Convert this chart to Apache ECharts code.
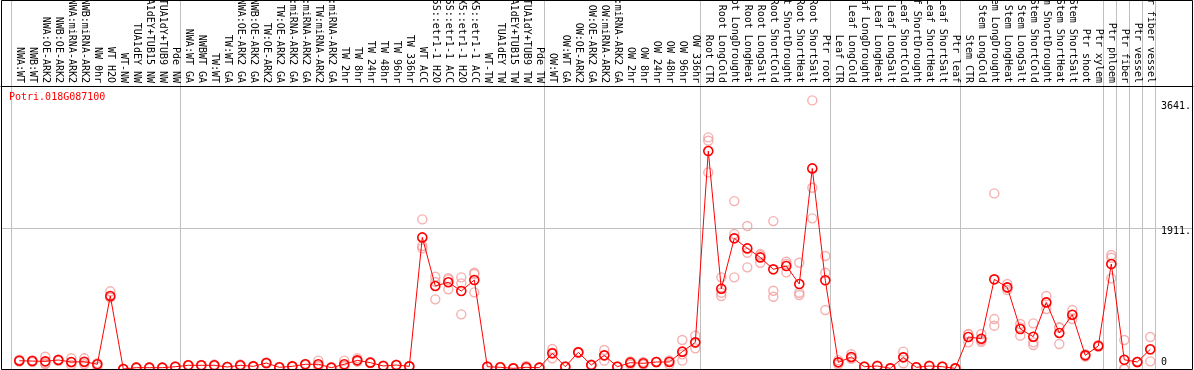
<!DOCTYPE html>
<html><head><meta charset="utf-8">
<script src="https://cdn.jsdelivr.net/npm/echarts@6/dist/echarts.min.js"></script>
<style>html,body{margin:0;padding:0;background:#fff;overflow:hidden}#c{width:1194px;height:370px}</style>
</head><body><div id="c"></div>
<script>
const geneId = 'Potri.018G087100';

const categories = [
  'NWA:WT','NWB:WT','NWA:OE-ARK2','NWB:OE-ARK2','NWA:miRNA-ARK2','NWB:miRNA-ARK2','NW 0hr','WT H2O','WT-NW',
  'TUA1dEY NW','TUA1dEY+TUB15 NW','TUA1dY+TUB9 NW','Pde NW',
  'NWA:WT GA','NWBWT GA','TW:WT','TW:WT GA','NWA:OE-ARK2 GA','NWB:OE-ARK2 GA','TW:OE-ARK2','TW:OE-ARK2 GA',
  'NWA:miRNA-ARK2 GA','NWB:miRNA-ARK2 GA','TW:miRNA-ARK2','TW:miRNA-ARK2 GA',
  'TW 2hr','TW 8hr','TW 24hr','TW 48hr','TW 96hr','TW 336hr','WT ACC',
  '35S::etr1-1 H2O','35S::etr1-1 ACC','LMX5::etr1-1 H2O','LMX5::etr1-1 ACC',
  'WT-TW','TUA1dEY TW','TUA1dEY+TUB15 TW','TUA1dY+TUB9 TW','Pde TW',
  'OW:WT','OW:WT GA','OW:OE-ARK2','OW:OE-ARK2 GA','OW:miRNA-ARK2','OW:miRNA-ARK2 GA',
  'OW 2hr','OW 8hr','OW 24hr','OW 48hr','OW 96hr','OW 336hr',
  'Root CTR','Root LongCold','Root LongDrought','Root LongHeat','Root LongSalt',
  'Root ShortCold','Root ShortDrought','Root ShortHeat','Root ShortSalt','Ptr root',
  'Leaf CTR','Leaf LongCold','Leaf LongDrought','Leaf LongHeat','Leaf LongSalt',
  'Leaf ShortCold','Leaf ShortDrought','Leaf ShortHeat','Leaf ShortSalt','Ptr leaf',
  'Stem CTR','Stem LongCold','Stem LongDrought','Stem LongHeat','Stem LongSalt',
  'Stem ShortCold','Stem ShortDrought','Stem ShortHeat','Stem ShortSalt','Ptr shoot',
  'Ptr xylem','Ptr phloem','Ptr fiber','Ptr vessel','Ptr fiber vessel'
];

const meanValues = [
  112,108,104,122,95,99,64,990,0,
  18,18,18,31,
  50,50,50,27,50,36,81,23,
  36,64,64,18,
  64,117,86,41,54,36,1784,
  1125,1175,1057,1206,
  31,23,9,23,18,
  212,31,226,54,185,31,
  86,77,95,95,235,361,
  2954,1088,1771,1635,1513,
  1351,1396,1152,2719,1202,
  90,163,31,41,9,
  158,23,41,31,9,
  434,411,1215,1107,542,
  438,903,488,736,185,
  312,1423,125,95,267
];

const rep1 = [
  125,115,167,130,145,145,80,1053,0,
  18,18,18,31,
  55,55,60,27,60,36,90,23,
  36,64,113,18,
  113,145,86,41,54,36,2028,
  1251,1215,1242,1305,
  31,23,9,40,18,
  271,31,226,54,257,31,
  95,95,95,113,393,452,
  3139,1242,2276,1938,1558,
  2005,1454,1440,3641,1531,
  120,200,31,41,9,
  235,23,41,31,9,
  474,474,2380,1152,610,
  619,989,560,799,185,
  312,1545,393,95,434
];

const rep2 = [
  100,95,68,110,54,64,31,971,0,
  12,12,12,25,
  45,45,40,22,40,30,75,18,
  30,55,40,12,
  40,100,80,35,50,30,1667,
  944,1080,1161,1287,
  25,18,5,23,12,
  145,25,220,45,113,25,
  60,60,90,60,113,280,
  3094,989,1829,1576,1440,
  1061,1310,1034,2457,1305,
  60,150,25,35,5,
  77,18,35,25,5,
  361,370,677,1070,452,
  361,813,339,677,170,
  300,1508,0,90,104
];

const rep3 = [
  112,108,77,122,86,88,64,970,0,
  25,25,22,37,
  50,50,50,32,50,42,81,28,
  42,70,39,24,
  39,106,92,47,58,42,1635,
  1180,1230,741,1039,
  37,28,13,6,24,
  220,37,232,63,185,37,
  103,76,100,112,199,351,
  2665,1033,1242,1378,1541,
  980,1424,1003,2042,799,
  90,139,37,47,13,
  162,28,47,37,13,
  467,389,587,1099,564,
  325,907,565,732,200,
  325,1229,0,100,263
];

// groups: number of categories before each separator
const groupEnds = [0,13,41,53,63,73,84,85,86,87,88];
const yTickValues = [0,1911,3641];
const yTickLabels = ['0','1911.','3641.'];

// layout constants (not data)
const SEP_OFFSET = 5/13;
const X_MIN = -1.4077, X_MAX = 90.285;
const Y_MAX = 3836;
const MONO = 'DejaVu Sans Mono';

const sepValues = groupEnds.map(k => (k - 1) + SEP_OFFSET);
const labelValues = categories.map((c, i) => i);
const toPairs = arr => arr.map((v, i) => [i, v]);

const repStyle = {color:'transparent', borderColor:'#f29c9c', borderWidth:1.4};
function repSeries(arr){
  return {type:'scatter', data: toPairs(arr), symbol:'circle', symbolSize:9,
    itemStyle: repStyle, z:2, silent:true, animation:false};
}

const chart = echarts.init(document.getElementById('c'), null, {renderer:'canvas'});
chart.setOption({
  animation:false,
  backgroundColor:'#fff',
  title:{text:geneId, left:9, top:91, padding:0,
    textStyle:{color:'#ff0000', fontSize:10, fontFamily:MONO, fontWeight:'normal', lineHeight:12}},
  grid:{left:1, right:1, top:86, bottom:1, containLabel:false, outerBoundsMode:'none'},
  xAxis:{
    type:'value', position:'top', min:X_MIN, max:X_MAX,
    axisLine:{show:true, onZero:false, lineStyle:{color:'#000', width:1}},
    axisTick:{show:true, inside:false, length:86, customValues: sepValues,
      lineStyle:{color:'#c0c0c0', width:1}},
    splitLine:{show:true, lineStyle:{color:'#c0c0c0', width:1}},
    axisLabel:{show:true, customValues: labelValues, rotate:90, margin:3,
      formatter: v => categories[Math.round(v)] || '',
      color:'#000', fontSize:10, fontFamily:MONO, showMinLabel:true, showMaxLabel:true}
  },
  yAxis:{
    type:'value', position:'right', min:0, max:Y_MAX,
    axisLine:{show:false, onZero:false},
    axisTick:{show:false, customValues:[1911]},
    splitLine:{show:true, lineStyle:{color:'#c0c0c0', width:1}},
    axisLabel:{show:true, inside:true, align:'left', margin:32, customValues: yTickValues,
      formatter: v => {
        const i = yTickValues.indexOf(v);
        const s = yTickLabels[i];
        return i === 0 ? '{b|' + s + '}' : (i === 2 ? '{t|' + s + '}' : '{m|' + s + '}');
      },
      color:'#000', fontSize:10, fontFamily:MONO,
      rich:{
        t:{fontSize:10, fontFamily:MONO, color:'#000', padding:[13,0,0,0]},
        m:{fontSize:10, fontFamily:MONO, color:'#000', padding:[6,0,0,0]},
        b:{fontSize:10, fontFamily:MONO, color:'#000', padding:[0,0,14,0]}
      }}
  },
  graphic:[{type:'rect', shape:{x:1.5, y:0.5, width:1191, height:369},
    style:{fill:'none', stroke:'#000', lineWidth:1}, z:100, silent:true}],
  series:[
    repSeries(rep1), repSeries(rep2), repSeries(rep3),
    {type:'line', data: toPairs(meanValues), symbol:'circle', symbolSize:9, showAllSymbol:true,
      lineStyle:{color:'#ff0000', width:1},
      itemStyle:{color:'transparent', borderColor:'#ff0000', borderWidth:1.6},
      z:3, silent:true, animation:false}
  ]
});
</script>
</body></html>
